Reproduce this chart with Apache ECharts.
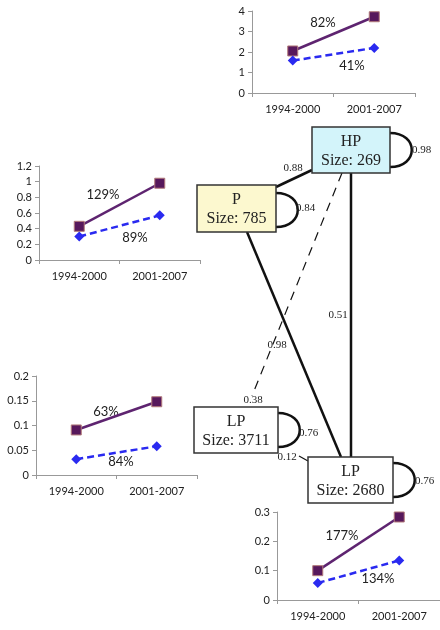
<!DOCTYPE html>
<html><head><meta charset="utf-8">
<script src="https://cdn.jsdelivr.net/npm/echarts@6/dist/echarts.min.js"></script>
<style>html,body{margin:0;padding:0;background:#fff}#c{width:440px;height:630px}</style>
</head><body><div id="c"></div>
<script>
// ---- data ----
const periods = ['1994-2000', '2001-2007'];
// mini chart A (top right, HP)
const hpSolid = [2.05, 3.72];
const hpDashed = [1.58, 2.2];
const hpPct = ['82%', '41%'];
// mini chart B (left upper, P)
const pSolid = [0.43, 0.98];
const pDashed = [0.3, 0.57];
const pPct = ['129%', '89%'];
// mini chart C (left lower, LP 3711)
const lp1Solid = [0.091, 0.148];
const lp1Dashed = [0.032, 0.058];
const lp1Pct = ['63%', '84%'];
// mini chart D (bottom right, LP 2680)
const lp2Solid = [0.1, 0.283];
const lp2Dashed = [0.058, 0.135];
const lp2Pct = ['177%', '134%'];
// y-axis ranges (max, interval)
const yMax = [4, 1.2, 0.2, 0.3];
const yStep = [1, 0.2, 0.05, 0.1];
// transition diagram
const nodeNames = ['HP', 'P', 'LP', 'LP'];
const nodeSizes = [269, 785, 3711, 2680];
const selfLoops = [0.98, 0.84, 0.76, 0.76];
const edgeLabels = ['0.88', '0.51', '0.98', '0.38', '0.12'];

// ---- layout ----
const grids = [
  {left: 252, top: 11, width: 163, height: 82},
  {left: 39, top: 166, width: 161, height: 94},
  {left: 36, top: 376, width: 161, height: 99},
  {left: 277, top: 512, width: 164, height: 88}
];
const solids = [hpSolid, pSolid, lp1Solid, lp2Solid];
const dashes = [hpDashed, pDashed, lp1Dashed, lp2Dashed];
const pcts = [hpPct, pPct, lp1Pct, lp2Pct];
const pctPos = [
  [[323, 23], [352, 66]],
  [[103, 195], [135, 238]],
  [[106, 412], [121, 462]],
  [[342, 536], [378, 579]]
];
const axisCol = '#999999';
const lblFont = 'Lato, "Open Sans", sans-serif';

const xAxes = [], yAxes = [], series = [], graphics = [];
grids.forEach((g, i) => {
  xAxes.push({
    type: 'category', gridIndex: i, data: periods, boundaryGap: true,
    axisLine: {lineStyle: {color: axisCol, width: 1}},
    axisTick: {show: true, length: 4, interval: 0, lineStyle: {color: axisCol}},
    axisLabel: {color: '#222', fontSize: 11, fontFamily: lblFont, margin: 11, interval: 0}
  });
  yAxes.push({
    type: 'value', gridIndex: i, min: 0, max: yMax[i], interval: yStep[i],
    axisLine: {show: true, lineStyle: {color: axisCol, width: 1}},
    axisTick: {show: true, length: 4, lineStyle: {color: axisCol}},
    splitLine: {show: false},
    axisLabel: {color: '#222', fontSize: 11, fontFamily: lblFont, margin: 7}
  });
  series.push({
    type: 'line', xAxisIndex: i, yAxisIndex: i, data: solids[i],
    symbol: 'rect', symbolSize: 10, animation: false,
    lineStyle: {color: '#5e2470', width: 2.5},
    itemStyle: {color: '#57185c', borderColor: '#b27a7a', borderWidth: 1}
  });
  series.push({
    type: 'line', xAxisIndex: i, yAxisIndex: i, data: dashes[i],
    symbol: 'diamond', symbolSize: 10, animation: false,
    lineStyle: {color: '#2a2af0', width: 2.5, type: [7, 4]},
    itemStyle: {color: '#2a2af0'}
  });
  pcts[i].forEach((t, k) => {
    graphics.push({type: 'text', style: {text: t, x: pctPos[i][k][0], y: pctPos[i][k][1],
      font: '13px ' + lblFont, fill: '#222', align: 'center', verticalAlign: 'middle',
      textAlign: 'center', textVerticalAlign: 'middle'}});
  });
});

// diagram geometry
const boxes = [
  {x: 312, y: 127, w: 78, h: 46, fill: '#d3f4fa'},
  {x: 197, y: 185, w: 79, h: 47, fill: '#fcf8cf'},
  {x: 194, y: 407, w: 84, h: 46, fill: '#ffffff'},
  {x: 308, y: 457, w: 85, h: 46, fill: '#ffffff'}
];
const serif = '"Liberation Serif", "DejaVu Serif", serif';
function txt(t, x, y, size, align) {
  graphics.push({type: 'text', z: 20, style: {text: t, x: x, y: y, font: size + 'px ' + serif,
    fill: '#222', align: align || 'center', verticalAlign: 'middle',
    textAlign: align || 'center', textVerticalAlign: 'middle'}});
}
function line(x1, y1, x2, y2, w, dash) {
  graphics.push({type: 'line', z: 5, shape: {x1, y1, x2, y2},
    style: {stroke: '#111', lineWidth: w, lineDash: dash || null}});
}
// edges
line(276, 187, 312, 170, 2.5);
line(351, 173, 351, 457, 2.5);
line(247, 232, 341, 457, 2.5);
line(342, 173, 252, 396, 1.2, [9, 7]);
line(299, 456, 308, 461, 1.2);
// self loops
const loopY = [[133, 167], [193, 227], [413, 447], [463, 497]];
boxes.forEach((b, i) => {
  const rx = b.x + b.w;
  graphics.push({type: 'bezierCurve', z: 5, shape: {x1: rx, y1: loopY[i][0], cpx1: rx + 29, cpy1: loopY[i][0],
    cpx2: rx + 29, cpy2: loopY[i][1], x2: rx, y2: loopY[i][1]},
    style: {stroke: '#111', lineWidth: 2.5, fill: null}});
});
// boxes
boxes.forEach((b, i) => {
  graphics.push({type: 'rect', z: 10, shape: {x: b.x, y: b.y, width: b.w, height: b.h},
    style: {fill: b.fill, stroke: '#333', lineWidth: 1.5}});
  txt(nodeNames[i], b.x + b.w / 2, b.y + 15, 16);
  txt('Size: ' + nodeSizes[i], b.x + b.w / 2, b.y + 34, 16);
});
// loop labels
const loopLbl = [[412, 150], [296, 208], [299, 433], [415, 481]];
selfLoops.forEach((v, i) => txt(v.toFixed(2), loopLbl[i][0], loopLbl[i][1], 11, 'left'));
// edge labels
const edgePos = [[293, 168], [338, 315], [277, 345], [253, 400], [287, 457]];
edgeLabels.forEach((t, i) => txt(t, edgePos[i][0], edgePos[i][1], 11));

const chart = echarts.init(document.getElementById('c'));
chart.setOption({
  animation: false,
  backgroundColor: '#fff',
  grid: grids.map(g => Object.assign({containLabel: false}, g)),
  xAxis: xAxes, yAxis: yAxes, series: series, graphic: graphics
});
</script></body></html>
